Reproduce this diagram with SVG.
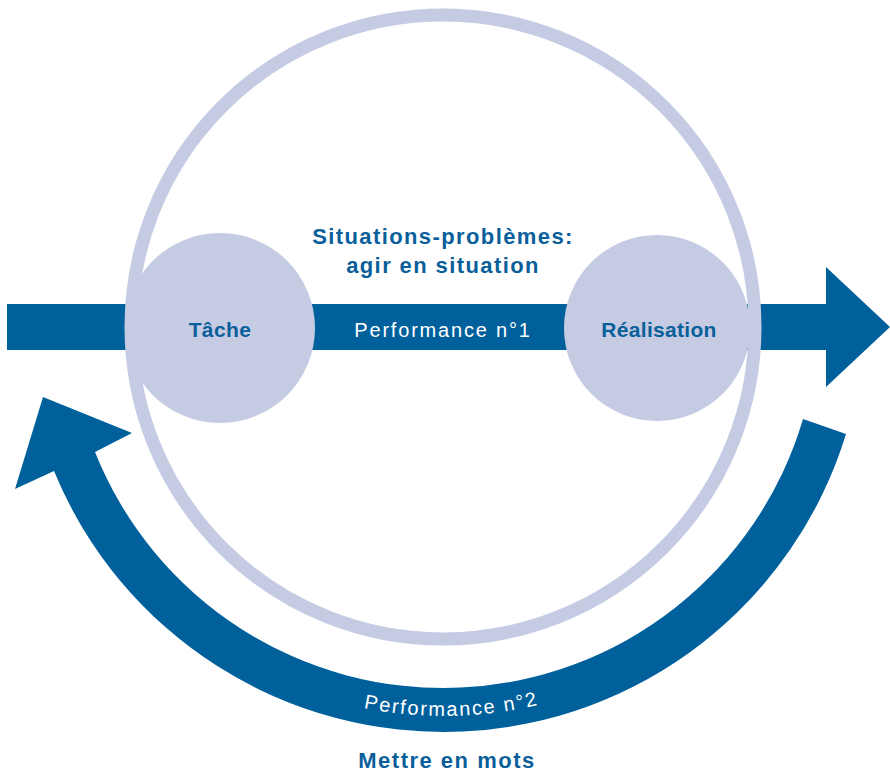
<svg xmlns="http://www.w3.org/2000/svg" width="890" height="774" viewBox="0 0 890 774">
<defs>
<style>
.arrow{fill:#00609c}
.light{fill:#c5cbe3}
.ring{fill:none;stroke:#c5cbe3;stroke-width:13}
.lbl{font-family:"Liberation Sans",Arial,sans-serif;font-weight:bold;fill:#0a5f9b;text-anchor:middle}
.wht{font-family:"Liberation Sans",Arial,sans-serif;fill:#ffffff;font-size:20px;letter-spacing:1.8px}
</style>
<path id="arcText" d="M 39 311 A 405 405 0 0 0 849 311"/>
</defs>
<g id="connectors">
<polygon id="perf1-arrow" class="arrow" points="7,304 826,304 826,267 890,327 826,387 826,350 7,350"/>
<path id="perf2-arrow" class="arrow" d="M 846 434 A 421 421 0 0 1 54 471 L 15 489 L 43 397 L 132 433 L 95 452 A 375 375 0 0 0 803 419 Z"/>
</g>
<g id="situations">
<circle class="ring" cx="443" cy="327" r="312"/>
<text class="lbl" x="443" y="244" font-size="22" letter-spacing="1.4">Situations-problèmes:</text>
<text class="lbl" x="443" y="273" font-size="22" letter-spacing="1.4">agir en situation</text>
</g>
<g id="tache">
<circle class="light" cx="220" cy="328" r="95"/>
<text class="lbl" x="220" y="337" font-size="21" letter-spacing="0.4">Tâche</text>
</g>
<g id="realisation">
<circle class="light" cx="657" cy="328" r="93"/>
<text class="lbl" x="659" y="337" font-size="21" letter-spacing="0.3">Réalisation</text>
</g>
<g id="labels">
<text class="wht" x="443" y="337" text-anchor="middle">Performance n°1</text>
<text class="wht"><textPath href="#arcText" startOffset="50.6%" text-anchor="middle">Performance n°2</textPath></text>
<text class="lbl" x="447" y="768" font-size="22" letter-spacing="1.5">Mettre en mots</text>
</g>
</svg>
